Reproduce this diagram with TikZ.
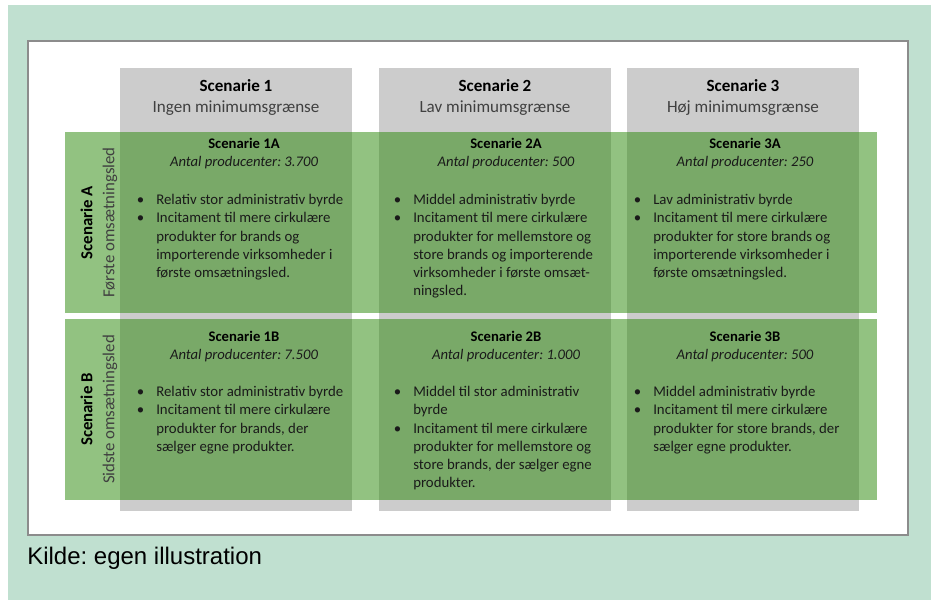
\documentclass[tikz,border=0pt]{standalone}
\definecolor{MintColor}{RGB}{192,224,208}
\definecolor{FrameColor}{RGB}{140,140,140}
\definecolor{ColumnColor}{RGB}{204,204,204}
\definecolor{RowColor}{RGB}{39,135,5}
\definecolor{SubColor}{RGB}{64,64,64}
\definecolor{TextColor}{RGB}{26,26,26}
\usepackage{fontspec}
\setmainfont{Carlito}
\newfontfamily\kildefont{Liberation Sans}
\usepackage{tikz}
\usetikzlibrary{positioning}
\frenchspacing
\tikzstyle{column} = [fill=ColumnColor]
\tikzstyle{row} = [fill=RowColor, fill opacity=0.5]
\tikzstyle{header} = [align=center, inner sep=0pt, font=\fontsize{12.8}{15.75}\selectfont]
\tikzstyle{rowlabel} = [align=center, inner sep=0pt, rotate=90, font=\fontsize{12.6}{16.5}\selectfont]
\tikzstyle{celltitle} = [align=center, inner sep=0pt, font=\fontsize{11}{13.5}\selectfont]
\tikzstyle{cellbody} = [align=left, anchor=north west, inner sep=0pt, text=TextColor, font=\fontsize{11.1}{13.7}\selectfont]
\newcommand{\bul}{\llap{\textbullet\hspace{9pt}}}

\begin{document}
\begin{tikzpicture}[x=0.75pt, y=-0.75pt]
            \useasboundingbox (0,0) rectangle (931,600);
            % Background and frame
            \fill[MintColor] (8,5) rectangle (931,600);
            \draw[FrameColor, line width=1.5pt, fill=white] (28,41) rectangle (908,535);

            % Columns
            \fill[column] (120,68) rectangle (352,511);
            \fill[column] (379,68) rectangle (611,511);
            \fill[column] (627,68) rectangle (859,511);

            % Rows
            \fill[row] (65,132) rectangle (877,313);
            \fill[row] (65,319) rectangle (877,500);

            % Column headers
            \node[header] (head1) at (236,97.5) {\textbf{Scenarie 1}\\\textcolor{SubColor}{Ingen minimumsgrænse}};
            \node[header] (head2) at (495,97.5) {\textbf{Scenarie 2}\\\textcolor{SubColor}{Lav minimumsgrænse}};
            \node[header] (head3) at (743,97.5) {\textbf{Scenarie 3}\\\textcolor{SubColor}{Høj minimumsgrænse}};

            % Row labels
            \node[rowlabel] (rowA) at (99,222.5) {\textbf{Scenarie A}\\\textcolor{SubColor}{Første omsætningsled}};
            \node[rowlabel] (rowB) at (99,409.5) {\textbf{Scenarie B}\\\textcolor{SubColor}{Sidste omsætningsled}};

            % Scenarie A
            \node[celltitle] (title1A) at (244,154) {\textbf{Scenarie 1A}\\\textcolor{TextColor}{\itshape Antal producenter: 3.700}};
            \node[cellbody] (body1A) at (156,194) {\bul Relativ stor administrativ byrde\\\bul Incitament til mere cirkulære\\produkter for brands og\\importerende virksomheder i\\første omsætningsled.};

            \node[celltitle] (title2A) at (506,154) {\textbf{Scenarie 2A}\\\textcolor{TextColor}{\itshape Antal producenter: 500}};
            \node[cellbody] (body2A) at (413,194) {\bul Middel administrativ byrde\\\bul Incitament til mere cirkulære\\produkter for mellemstore og\\store brands og importerende\\virksomheder i første omsæt-\\ningsled.};

            \node[celltitle] (title3A) at (745,154) {\textbf{Scenarie 3A}\\\textcolor{TextColor}{\itshape Antal producenter: 250}};
            \node[cellbody] (body3A) at (653,194) {\bul Lav administrativ byrde\\\bul Incitament til mere cirkulære\\produkter for store brands og\\importerende virksomheder i\\første omsætningsled.};

            % Scenarie B
            \node[celltitle] (title1B) at (244,346.5) {\textbf{Scenarie 1B}\\\textcolor{TextColor}{\itshape Antal producenter: 7.500}};
            \node[cellbody] (body1B) at (156,386) {\bul Relativ stor administrativ byrde\\\bul Incitament til mere cirkulære\\produkter for brands, der\\sælger egne produkter.};

            \node[celltitle] (title2B) at (506,346.5) {\textbf{Scenarie 2B}\\\textcolor{TextColor}{\itshape Antal producenter: 1.000}};
            \node[cellbody] (body2B) at (413,386) {\bul Middel til stor administrativ\\byrde\\\bul Incitament til mere cirkulære\\produkter for mellemstore og\\store brands, der sælger egne\\produkter.};

            \node[celltitle] (title3B) at (745,346.5) {\textbf{Scenarie 3B}\\\textcolor{TextColor}{\itshape Antal producenter: 500}};
            \node[cellbody] (body3B) at (653,386) {\bul Middel administrativ byrde\\\bul Incitament til mere cirkulære\\produkter for store brands, der\\sælger egne produkter.};

            % Source
            \node[anchor=west, inner sep=0pt, font=\kildefont\fontsize{18}{21}\selectfont] (kilde) at (27,558) {Kilde: egen illustration};
        \end{tikzpicture}
\end{document}
